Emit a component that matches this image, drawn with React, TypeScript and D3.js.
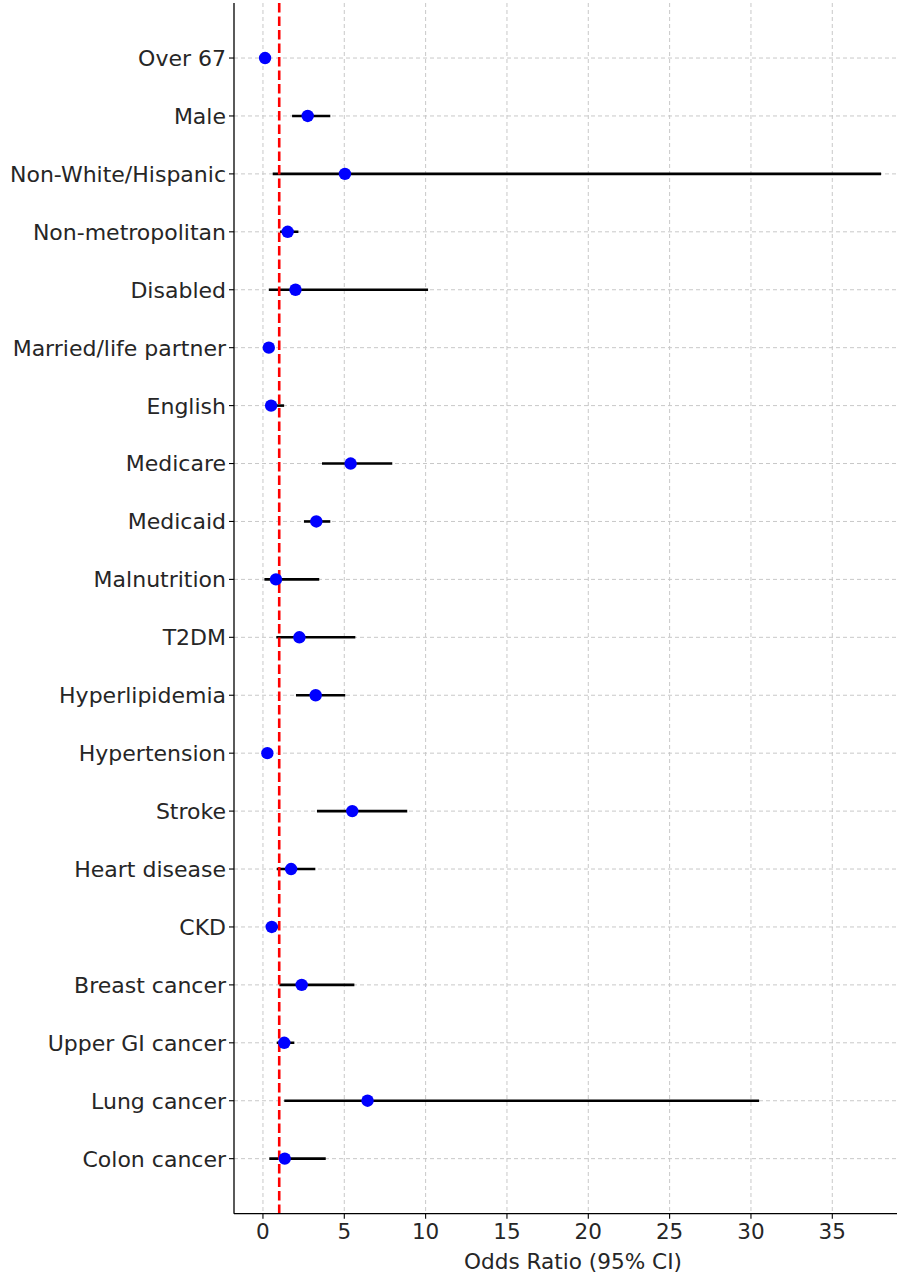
import React from "react";
import * as d3 from "d3";

const categories = [
  "Over 67", "Male", "Non-White/Hispanic", "Non-metropolitan", "Disabled",
  "Married/life partner", "English", "Medicare", "Medicaid", "Malnutrition",
  "T2DM", "Hyperlipidemia", "Hypertension", "Stroke", "Heart disease",
  "CKD", "Breast cancer", "Upper GI cancer", "Lung cancer", "Colon cancer",
];
const oddsRatio = [0.13, 2.75, 5.04, 1.52, 2.0, 0.36, 0.5, 5.39, 3.28, 0.8,
  2.24, 3.24, 0.27, 5.49, 1.73, 0.54, 2.38, 1.31, 6.43, 1.34];
const ciLower = [0.08, 1.79, 0.6, 1.05, 0.36, 0.25, 0.3, 3.63, 2.52, 0.09,
  0.82, 2.03, 0.18, 3.32, 0.85, 0.3, 1.01, 0.85, 1.31, 0.39];
const ciUpper = [0.25, 4.14, 38.0, 2.18, 10.15, 0.5, 1.3, 7.95, 4.14, 3.46,
  5.68, 5.06, 0.4, 8.87, 3.22, 0.95, 5.62, 1.93, 30.5, 3.86];
const xTicks = [0, 5, 10, 15, 20, 25, 30, 35];
const refLine = 1;

const W = 897, H = 1274;
const left = 234, right = 912, top = 3, bottom = 1213.7;

export default function App() {
  const x = d3.scaleLinear().domain([-1.78, 39.9]).range([left, right]);
  const y = d3.scaleLinear().domain([-0.95, categories.length - 1 + 0.95]).range([top, bottom]);
  const font = "'DejaVu Sans', sans-serif";
  return (
    <svg width={W} height={H} style={{ position: "absolute", left: 0, top: 0, background: "#fff" }}
      fontFamily={font}>
      <defs>
        <clipPath id="plot"><rect x={left} y={top} width={right - left} height={bottom - top} /></clipPath>
      </defs>
      {/* grid */}
      <g stroke="#c8c8c8" strokeWidth={1} strokeDasharray="4,3">
        {xTicks.map(t => <line key={"gx" + t} x1={x(t)} x2={x(t)} y1={top} y2={bottom} />)}
        {categories.map((c, i) => <line key={"gy" + c} x1={left} x2={right} y1={y(i)} y2={y(i)} />)}
      </g>
      <g clipPath="url(#plot)">
        {categories.map((c, i) => (
          <line key={"ci" + c} x1={x(ciLower[i])} x2={x(ciUpper[i])} y1={y(i)} y2={y(i)}
            stroke="#000" strokeWidth={2.6} />
        ))}
        <line x1={x(refLine)} x2={x(refLine)} y1={top} y2={bottom} stroke="#ff0000"
          strokeWidth={2.6} strokeDasharray="9.5,4" />
        {categories.map((c, i) => (
          <circle key={"pt" + c} cx={x(oddsRatio[i])} cy={y(i)} r={6.2} fill="#0000ff" />
        ))}
      </g>
      {/* spines */}
      <line x1={left} x2={left} y1={top} y2={bottom} stroke="#000" strokeWidth={1.3} />
      <line x1={left} x2={right} y1={bottom} y2={bottom} stroke="#000" strokeWidth={1.3} />
      {/* y ticks */}
      {categories.map((c, i) => (
        <g key={"yl" + c}>
          <line x1={left - 5} x2={left} y1={y(i)} y2={y(i)} stroke="#000" strokeWidth={1.1} />
          <text x={left - 8} y={y(i)} dy="0.36em" textAnchor="end" fontSize={22} fill="#262626">{c}</text>
        </g>
      ))}
      {/* x ticks */}
      {xTicks.map(t => (
        <g key={"xt" + t}>
          <line x1={x(t)} x2={x(t)} y1={bottom} y2={bottom + 5} stroke="#000" strokeWidth={1.1} />
          <text x={x(t)} y={bottom + 25.6} textAnchor="middle" fontSize={21.5} fill="#262626">{t}</text>
        </g>
      ))}
      <text x={(left + right) / 2} y={bottom + 55.3} textAnchor="middle" fontSize={21.6} fill="#262626">
        Odds Ratio (95% CI)
      </text>
    </svg>
  );
}
